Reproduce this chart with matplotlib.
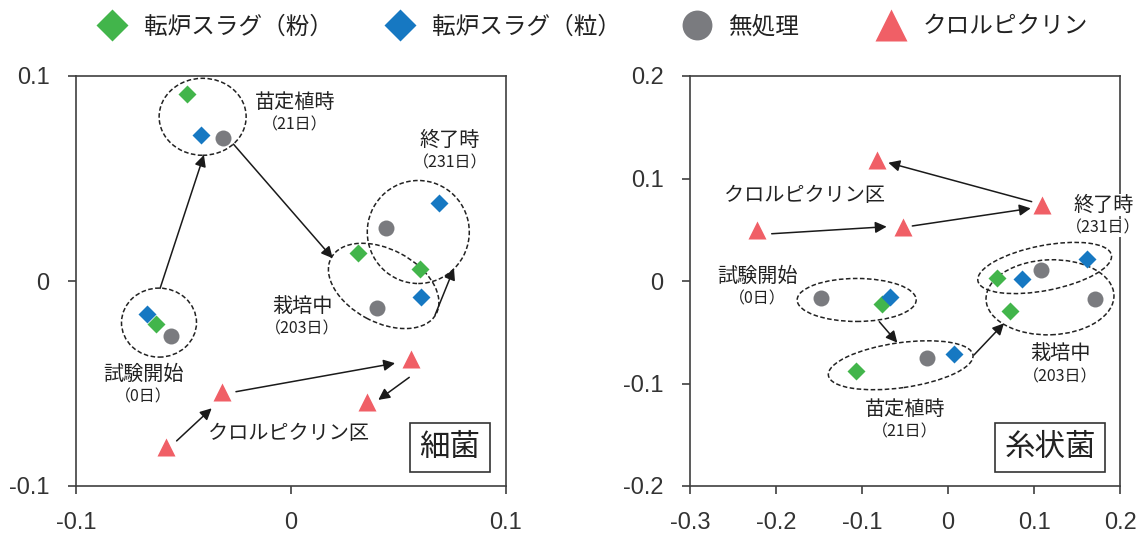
import matplotlib
matplotlib.use('Agg')
import matplotlib.pyplot as plt
from matplotlib.lines import Line2D
from matplotlib.patches import Ellipse
from matplotlib.transforms import ScaledTranslation

plt.rcParams['font.family'] = ['Noto Sans CJK JP', 'DejaVu Sans']

# ---------------- data ----------------
series_names = ['転炉スラグ（粉）', '転炉スラグ（粒）', '無処理', 'クロルピクリン']
stage_labels = ['試験開始', '苗定植時', '栽培中', '終了時']
stage_days = ['（0日）', '（21日）', '（203日）', '（231日）']

# bacteria (細菌): order = 試験開始, 苗定植時, 栽培中, 終了時
bac_powder_x = [-0.063, -0.0485, 0.031, 0.060]
bac_powder_y = [-0.021, 0.091, 0.0135, 0.006]
bac_granule_x = [-0.067, -0.042, 0.0605, 0.069]
bac_granule_y = [-0.016, 0.071, -0.008, 0.038]
bac_control_x = [-0.056, -0.0315, 0.040, 0.044]
bac_control_y = [-0.027, 0.070, -0.013, 0.026]
bac_chloro_x = [-0.058, -0.032, 0.056, 0.0355]
bac_chloro_y = [-0.081, -0.054, -0.038, -0.059]

# fungi (糸状菌)
fun_powder_x = [-0.077, -0.107, 0.072, 0.057]
fun_powder_y = [-0.022, -0.088, -0.029, 0.003]
fun_granule_x = [-0.067, 0.007, 0.086, 0.162]
fun_granule_y = [-0.016, -0.0715, 0.002, 0.021]
fun_control_x = [-0.148, -0.025, 0.171, 0.108]
fun_control_y = [-0.017, -0.075, -0.018, 0.011]
fun_chloro_x = [-0.222, -0.052, 0.109, -0.083]
fun_chloro_y = [0.050, 0.053, 0.074, 0.118]

bac_xticks = [-0.1, 0, 0.1]
bac_yticks = [-0.1, 0, 0.1]
fun_xticks = [-0.3, -0.2, -0.1, 0, 0.1, 0.2]
fun_yticks = [-0.2, -0.1, 0, 0.1, 0.2]
bac_ticklabels = ['-0.1', '0', '0.1']
fun_xticklabels = ['-0.3', '-0.2', '-0.1', '0', '0.1', '0.2']
fun_yticklabels = ['-0.2', '-0.1', '0', '0.1', '0.2']

# ---------------- style ----------------
DPI = 100
C_GREEN = '#42b54b'
C_BLUE = '#1678c2'
C_GRAY = '#7a7b7f'
C_RED = '#f05f66'
C_AX = '#404040'
C_TXT = '#222222'
markers = [('D', C_GREEN, 9.2), ('D', C_BLUE, 9.2), ('o', C_GRAY, 11.5), ('^', C_RED, 12.5)]
TICK_FONT = ['Liberation Sans', 'DejaVu Sans']

fig = plt.figure(figsize=(11.42, 5.36), dpi=DPI)
W, H = 1142, 536
ax1 = fig.add_axes([76 / W, 50 / H, 430 / W, 410 / H])
ax2 = fig.add_axes([690 / W, 50 / H, 430 / W, 410 / H])


def style_axes(ax, xlim, ylim, xt, xtl, yt, ytl):
    ax.set_xlim(*xlim)
    ax.set_ylim(*ylim)
    ax.set_xticks(xt)
    ax.set_xticklabels(xtl)
    ax.set_yticks(yt)
    ax.set_yticklabels(ytl)
    for s in ax.spines.values():
        s.set_color(C_AX)
        s.set_linewidth(1.2)
    ax.tick_params(direction='out', length=6, width=1.2, color=C_AX,
                   labelsize=17, labelcolor='#333333', pad=13)
    for lab in ax.get_xticklabels() + ax.get_yticklabels():
        lab.set_family(TICK_FONT)


def plot_series(ax, xs, ys, zorders):
    for (m, c, ms), x, y, z in zip(markers, xs, ys, zorders):
        ax.plot(x, y, ls='none', marker=m, color=c, ms=ms, mec='none', zorder=z)


def px_ellipse(ax, cx, cy, w, h, ang=0):
    tr = fig.dpi_scale_trans + ScaledTranslation(cx, cy, ax.transData)
    e = Ellipse((0, 0), w / DPI, h / DPI, angle=ang, transform=tr, fill=False,
                ls=(0, (3, 1.6)), lw=1.1, ec='#222222', clip_on=False, zorder=3)
    ax.add_patch(e)


def arrow(ax, x0, y0, x1, y1):
    ax.annotate('', xy=(x1, y1), xytext=(x0, y0),
                arrowprops=dict(arrowstyle='-|>', color='#1a1a1a', lw=1.1,
                                mutation_scale=17, shrinkA=0, shrinkB=0),
                zorder=3)


def label(ax, x, y, main, sub=None, dy=0.0):
    ax.text(x, y, main, ha='center', va='center', fontsize=14.5, color=C_TXT,
            zorder=5, bbox=dict(fc='white', ec='none', pad=0.5))
    if sub is not None:
        ax.text(x, y - dy, sub, ha='center', va='center', fontsize=11.5,
                color=C_TXT, zorder=5, bbox=dict(fc='white', ec='none', pad=0.5))


def boxlabel(ax, txt, xpos):
    ax.text(xpos, 0.094, txt, transform=ax.transAxes,
            ha='center', va='center', fontsize=22, color=C_TXT, zorder=6,
            bbox=dict(boxstyle='square,pad=0.3', fc='white', ec='#333333', lw=1.2))


# ---------------- left: bacteria ----------------
style_axes(ax1, (-0.1, 0.1), (-0.1, 0.1), bac_xticks, bac_ticklabels, bac_yticks, bac_ticklabels)
plot_series(ax1, [bac_powder_x, bac_granule_x, bac_control_x, bac_chloro_x],
            [bac_powder_y, bac_granule_y, bac_control_y, bac_chloro_y], [4.2, 4.1, 4.3, 4.4])
px_ellipse(ax1, -0.0614, -0.0203, 75, 69)
px_ellipse(ax1, -0.0411, 0.0801, 87, 77)
px_ellipse(ax1, 0.0592, 0.0239, 102, 103)
px_ellipse(ax1, 0.0431, -0.0024, 119, 73, -28)
arrow(ax1, -0.0609, -0.0036, -0.0405, 0.0615)
arrow(ax1, -0.0268, 0.0668, 0.0194, 0.0111)
arrow(ax1, 0.067, -0.0166, 0.0758, 0.0062)
arrow(ax1, -0.0532, -0.078, -0.0369, -0.0621)
arrow(ax1, -0.0256, -0.054, 0.0484, -0.0401)
arrow(ax1, 0.055, -0.047, 0.0406, -0.058)
label(ax1, 0.0019, 0.087, stage_labels[1], stage_days[1], 0.011)
label(ax1, 0.074, 0.0684, stage_labels[3], stage_days[3], 0.011)
label(ax1, 0.0053, -0.0122, stage_labels[2], stage_days[2], 0.011)
label(ax1, -0.0687, -0.0455, stage_labels[0], stage_days[0], 0.011)
label(ax1, -0.0013, -0.0743, 'クロルピクリン区')
boxlabel(ax1, '細菌', 0.87)

# ---------------- right: fungi ----------------
style_axes(ax2, (-0.3, 0.2), (-0.2, 0.2), fun_xticks, fun_xticklabels, fun_yticks, fun_yticklabels)
plot_series(ax2, [fun_powder_x, fun_granule_x, fun_control_x, fun_chloro_x],
            [fun_powder_y, fun_granule_y, fun_control_y, fun_chloro_y], [4.1, 4.2, 4.3, 4.4])
px_ellipse(ax2, -0.1062, -0.0185, 119, 43)
px_ellipse(ax2, -0.055, -0.0822, 146, 45, 8)
px_ellipse(ax2, 0.1124, 0.0127, 136, 45, 11)
px_ellipse(ax2, 0.1186, -0.0159, 128, 75, 2)
arrow(ax2, -0.205, 0.0461, -0.0713, 0.053)
arrow(ax2, -0.0415, 0.0537, 0.0962, 0.0709)
arrow(ax2, 0.0973, 0.0774, -0.0694, 0.1154)
arrow(ax2, -0.0799, -0.0397, -0.0589, -0.0602)
arrow(ax2, 0.0302, -0.0722, 0.0651, -0.0413)
label(ax2, -0.1663, 0.0839, 'クロルピクリン区')
label(ax2, 0.1806, 0.0741, stage_labels[3], stage_days[3], 0.0225)
label(ax2, -0.2217, 0.0049, stage_labels[0], stage_days[0], 0.0225)
label(ax2, 0.1302, -0.0712, stage_labels[2], stage_days[2], 0.0225)
label(ax2, -0.05, -0.1249, stage_labels[1], stage_days[1], 0.0225)
boxlabel(ax2, '糸状菌', 0.838)

# ---------------- legend ----------------
leg_marker_sizes = [16.8, 16.8, 21.5, 22.5]
leg_centers_px = [112, 400, 697, 891]
for (m, c, _), name, msz, cx in zip(markers, series_names, leg_marker_sizes, leg_centers_px):
    h = Line2D([], [], ls='none', marker=m, color=c, ms=msz, mec='none')
    lg = fig.legend(handles=[h], labels=[name], loc='center left',
                    bbox_to_anchor=((cx - 12) / W, 1 - 27 / H), frameon=False,
                    fontsize=17, handlelength=1.0, handletextpad=0.85,
                    borderpad=0, borderaxespad=0)
    for t in lg.get_texts():
        t.set_color(C_TXT)

fig.savefig('out.png', dpi=DPI)
